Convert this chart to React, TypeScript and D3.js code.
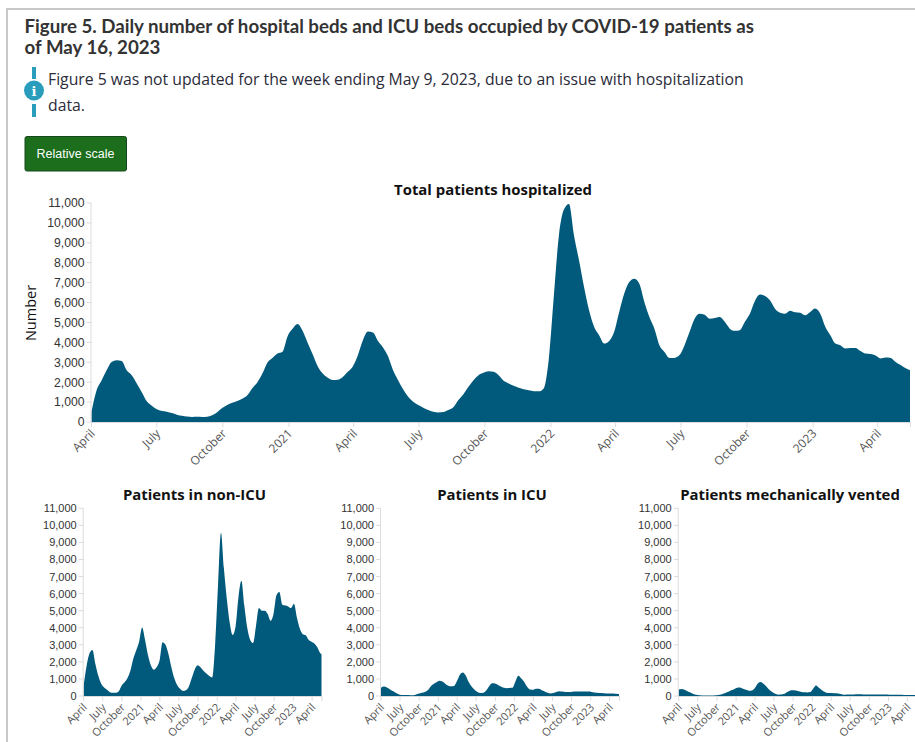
import React from "react";
import * as d3 from "d3";

const totalWeekly = [520,1580,2090,2600,3020,3100,3070,2600,2350,1940,1500,1040,820,640,550,520,450,370,310,275,255,265,255,265,340,490,700,850,970,1060,1170,1340,1700,1990,2430,2980,3210,3440,3530,4300,4680,4920,4580,3980,3400,2800,2430,2220,2110,2120,2260,2520,2790,3350,4100,4540,4500,4070,3740,3300,2600,2100,1640,1270,1020,850,720,600,520,480,500,600,735,1100,1400,1770,2100,2350,2470,2550,2520,2350,2070,1940,1820,1720,1650,1600,1550,1540,1700,3190,6360,9370,10670,10950,9370,8120,6780,5610,4780,4360,3940,4070,4530,5530,6450,7030,7200,6950,6030,5280,4690,3860,3520,3220,3220,3360,3860,4530,5190,5440,5390,5190,5230,5280,5030,4690,4580,4610,5030,5440,6080,6400,6330,6110,5690,5490,5440,5590,5510,5490,5360,5530,5700,5440,4780,4360,3940,3860,3690,3720,3720,3570,3440,3410,3340,3190,3240,3220,3020,2860,2700,2600];
const nonIcuBiweekly = [640,1780,2500,2700,1880,1180,720,500,360,220,190,190,280,620,800,1050,1500,2200,2680,3200,4020,3300,2400,1800,1540,1700,2100,3150,3000,2480,1700,1050,640,420,300,330,550,1050,1540,1800,1680,1480,1320,1170,1090,3000,6500,9570,7500,5700,4300,3580,4060,5800,6750,5300,4000,3300,3100,4100,5150,5000,5000,4800,4400,4800,5900,6100,5350,5300,5250,5150,5400,4600,3950,3620,3560,3300,3180,3080,2850,2500,2450];
const icuBiweekly = [480,550,500,400,290,190,100,60,60,60,50,50,90,140,190,240,340,560,700,800,890,850,720,600,570,590,880,1250,1380,1200,820,560,360,240,180,190,320,570,740,730,650,560,480,460,470,480,850,1190,1020,820,540,380,360,430,430,340,270,190,150,180,240,280,260,240,230,240,270,270,260,260,260,260,240,210,190,170,160,150,150,140,130,120,120];
const ventedBiweekly = [380,410,370,280,200,120,70,40,35,30,30,30,35,45,70,120,180,250,330,400,480,500,420,360,310,320,450,720,820,720,560,370,240,130,80,85,110,220,310,330,320,280,240,220,210,230,430,620,480,340,240,180,170,160,160,130,90,80,85,90,95,100,100,95,95,95,95,90,90,90,85,85,80,75,75,70,70,65,65,60,60,60,60];

const yTickValues = [0,1000,2000,3000,4000,5000,6000,7000,8000,9000,10000,11000];
const startDate = new Date(2020, 3, 1);
const endDate = new Date(2023, 4, 16);
const xTickDates = [
  new Date(2020,3,1), new Date(2020,6,1), new Date(2020,9,1), new Date(2021,0,1),
  new Date(2021,3,1), new Date(2021,6,1), new Date(2021,9,1), new Date(2022,0,1),
  new Date(2022,3,1), new Date(2022,6,1), new Date(2022,9,1), new Date(2023,0,1), new Date(2023,3,1),
];

const fill = "#01597b";
const axisColor = "#dcdcdc";
const sans = "'Open Sans', sans-serif";
const arial = "'Liberation Sans', Arial, sans-serif";
const fmtTick = (d: Date) => d.getMonth() === 0 ? d3.timeFormat("%Y")(d) : d3.timeFormat("%B")(d);
const fmtY = d3.format(",");

type PanelProps = {
  title: string; titleX: number; titleY: number; values: number[]; stepDays: number;
  x0: number; x1: number; y0: number; y1: number; yFont: number; xFont: number; yLabel?: string;
};

function Panel({ title, titleX, titleY, values, stepDays, x0, x1, y0, y1, yFont, xFont, yLabel }: PanelProps) {
  const x = d3.scaleTime().domain([startDate, endDate]).range([x0, x1]);
  const y = d3.scaleLinear().domain([0, 11000]).range([y0, y1]);
  const points = values.map((v, i) => {
    const d = d3.timeDay.offset(startDate, i * stepDays);
    return { date: d > endDate ? endDate : d, value: v };
  });
  const area = d3.area<{ date: Date; value: number }>()
    .x((p) => x(p.date)).y0(y(0)).y1((p) => y(p.value)).curve(d3.curveMonotoneX);
  return (
    <g>
      <text x={titleX} y={titleY} textAnchor="middle" fontFamily={sans} fontWeight={700} fontSize={14.9} fill="#111">{title}</text>
      <path d={area(points) ?? ""} fill={fill} />
      <line x1={x0 - 0.5} x2={x0 - 0.5} y1={y1} y2={y0} stroke={axisColor} />
      <line x1={x0 - 0.5} x2={x1} y1={y0 + 0.5} y2={y0 + 0.5} stroke={axisColor} strokeWidth={1} />
      {yTickValues.map((t) => (
        <g key={t}>
          <line x1={x0 - 5} x2={x0} y1={y(t)} y2={y(t)} stroke={axisColor} />
          <text x={x0 - 7} y={y(t) + yFont * 0.36} textAnchor="end" fontFamily={arial} fontSize={yFont} fill="#333">{fmtY(t)}</text>
        </g>
      ))}
      {xTickDates.map((t) => (
        <g key={t.getTime()} transform={`translate(${x(t)},${y0})`}>
          <line y1={0} y2={5} stroke={axisColor} />
          <text transform="translate(2,10) rotate(-45)" textAnchor="end" dominantBaseline="middle" fontFamily={sans} fontSize={xFont} fill="#555">{fmtTick(t)}</text>
        </g>
      ))}
      <line x1={x1 + 0.5} x2={x1 + 0.5} y1={y0} y2={y0 + 5} stroke={axisColor} />
      {yLabel && (
        <text transform={`translate(36,${(y0 + y1) / 2 + 0.5}) rotate(-90)`} textAnchor="middle" fontFamily={sans} fontSize={14.5} fill="#111">{yLabel}</text>
      )}
    </g>
  );
}

export default function App() {
  return (
    <svg width={915} height={742} viewBox="0 0 915 742" style={{ position: "absolute", left: 0, top: 0, background: "#fff", display: "block" }}>
      <path d="M7,742 V9 H915" fill="none" stroke="#c8c8c8" strokeWidth={2} />
      <g fontFamily="Lato, sans-serif" fontWeight={700} fontSize={18.7} fill="#333">
        <text x={24.5} y={33}>Figure 5. Daily number of hospital beds and ICU beds occupied by COVID-19 patients as</text>
        <text x={24.5} y={54}>of May 16, 2023</text>
      </g>
      <rect x={32} y={67} width={4} height={12} fill="#2a9dbd" />
      <rect x={32} y={104} width={4} height={13} fill="#2a9dbd" />
      <circle cx={34} cy={90.5} r={10} fill="#2a9dbd" />
      <text x={34} y={95.5} textAnchor="middle" fontFamily="'DejaVu Serif', serif" fontWeight={700} fontSize={13} fill="#fff">i</text>
      <g fontFamily={sans} fontSize={15.77} fill="#2b2b3a">
        <text x={48} y={85}>Figure 5 was not updated for the week ending May 9, 2023, due to an issue with hospitalization</text>
        <text x={48} y={111}>data.</text>
      </g>
      <rect x={25} y={136.5} width={101.5} height={34.5} rx={2} fill="#1c6e1c" stroke="#14481a" />
      <text x={75.5} y={158} textAnchor="middle" fontFamily={arial} fontSize={12.5} fill="#fff">Relative scale</text>

      <Panel title="Total patients hospitalized" titleX={493} titleY={195} values={totalWeekly} stepDays={7}
        x0={91.5} x1={910} y0={422} y1={203} yFont={12.2} xFont={12} yLabel="Number" />
      <Panel title="Patients in non-ICU" titleX={194.5} titleY={500} values={nonIcuBiweekly} stepDays={14}
        x0={83.7} x1={321.5} y0={696} y1={508.3} yFont={11} xFont={11} />
      <Panel title="Patients in ICU" titleX={492} titleY={500} values={icuBiweekly} stepDays={14}
        x0={381} x1={619} y0={696} y1={508.3} yFont={11} xFont={11} />
      <Panel title="Patients mechanically vented" titleX={790} titleY={500} values={ventedBiweekly} stepDays={14}
        x0={678.7} x1={916.7} y0={696} y1={508.3} yFont={11} xFont={11} />
    </svg>
  );
}
